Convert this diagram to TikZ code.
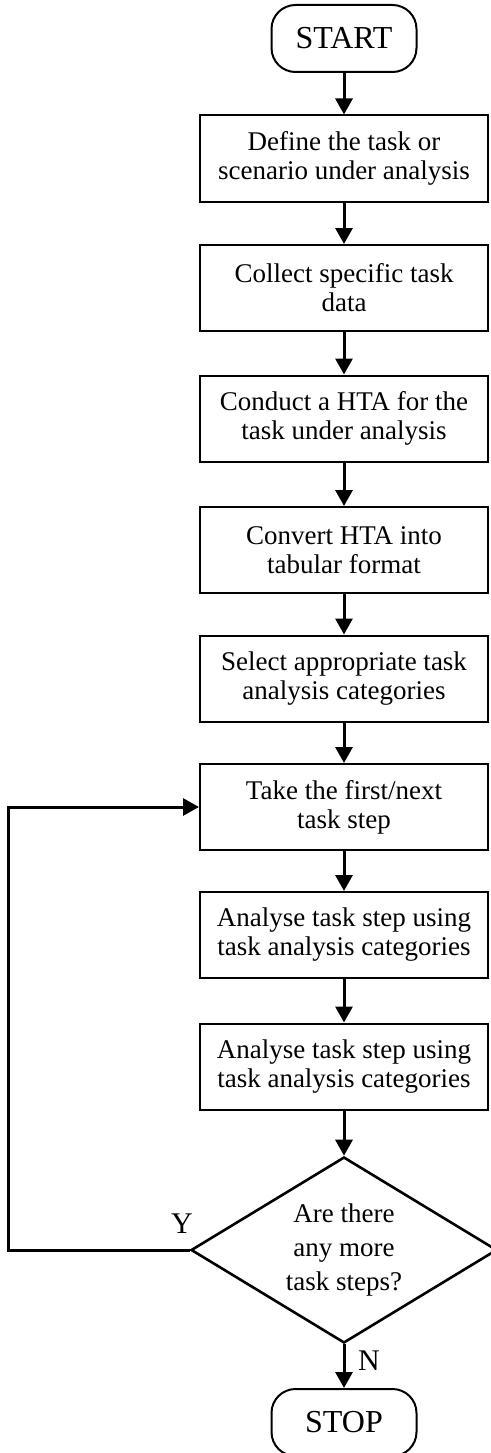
\documentclass[tikz,border=0pt]{standalone}
\usepackage{fontspec}
\setmainfont{Liberation Serif}
\usetikzlibrary{arrows.meta,shapes.geometric}
\begin{document}
\begin{tikzpicture}[x=1pt,y=-1pt,
  stepbox/.style={draw,line width=2pt,minimum width=288pt,minimum height=86pt,
    inner sep=0pt,align=center,font=\fontsize{27}{29}\selectfont},
  terminal/.style={draw,line width=2pt,rounded corners=24pt,minimum width=145pt,
    minimum height=67pt,inner sep=0pt,font=\fontsize{32}{34}\selectfont},
  flow/.style={line width=3pt,-{Triangle[length=16pt,width=17pt]}},
  lbl/.style={font=\fontsize{30}{32}\selectfont,inner sep=0pt}]
\useasboundingbox (0,0) rectangle (490,1453);

\node[terminal] (start) at (344,38.5) {START};
\node[stepbox] (b1) at (344,158.5) {Define the task or\\scenario under analysis};
\node[stepbox] (b2) at (344,288) {Collect specific task\\data};
\node[stepbox] (b3) at (344,418.5) {Conduct a HTA for the\\task under analysis};
\node[stepbox] (b4) at (344,550) {Convert HTA into\\tabular format};
\node[stepbox] (b5) at (344,678.5) {Select appropriate task\\analysis categories};
\node[stepbox] (b6) at (344,807) {Take the first/next\\task step};
\node[stepbox] (b7) at (344,935) {Analyse task step using\\task analysis categories};
\node[stepbox] (b8) at (344,1066.5) {Analyse task step using\\task analysis categories};
\node[diamond,draw,line width=2.6pt,minimum width=306pt,minimum height=186pt,
  inner sep=0pt] (dec) at (344,1250) {};
\node[align=center,font=\fontsize{27}{34}\selectfont] (dectext) at (344,1250)
  {Are there\\any more\\task steps?};
\node[terminal] (stop) at (344,1422.5) {STOP};

\draw[flow] (start) -- (b1);
\draw[flow] (b1) -- (b2);
\draw[flow] (b2) -- (b3);
\draw[flow] (b3) -- (b4);
\draw[flow] (b4) -- (b5);
\draw[flow] (b5) -- (b6);
\draw[flow] (b6) -- (b7);
\draw[flow] (b7) -- (b8);
\draw[flow] (b8) -- (dec);
\draw[flow] (dec) -- (stop);

\coordinate (loopcorner) at (8,1250);
\draw[flow,line join=miter] (dec.west) -- (loopcorner) |- (b6.west);

\node[lbl] (ylab) at (182,1224) {Y};
\node[lbl] (nlab) at (369,1361) {N};
\end{tikzpicture}
\end{document}
